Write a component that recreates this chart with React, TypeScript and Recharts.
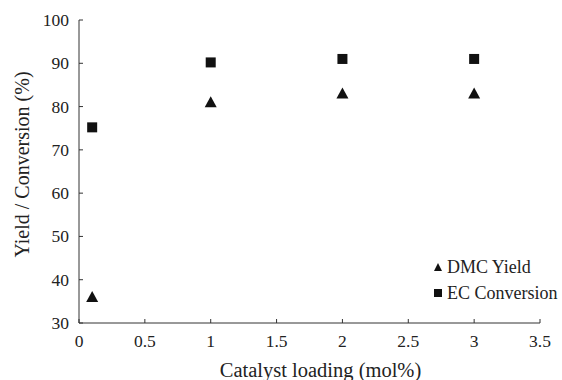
import { ScatterChart, Scatter, XAxis, YAxis } from 'recharts';

const loading = [0.1, 1, 2, 3];
const dmcYield = [36, 81, 83, 83];
const ecConversion = [75.2, 90.2, 91, 91];
const xTicks = [0, 0.5, 1, 1.5, 2, 2.5, 3, 3.5];
const yTicks = [30, 40, 50, 60, 70, 80, 90, 100];

const dmcData = loading.map((x, i) => ({ x, y: dmcYield[i] }));
const ecData = loading.map((x, i) => ({ x, y: ecConversion[i] }));

const FONT = 'Liberation Serif, Times New Roman, serif';
const INK = '#111';

const Triangle = (props: any) => {
  const { cx, cy } = props;
  return <polygon points={`${cx},${cy - 6} ${cx - 6},${cy + 5} ${cx + 6},${cy + 5}`} fill={INK} />;
};

const Square = (props: any) => {
  const { cx, cy } = props;
  return <rect x={cx - 5} y={cy - 5} width={10} height={10} fill={INK} />;
};

// ticks point inward, so draw the little line ourselves
const YTick = (props: any) => {
  const { x, y, payload } = props;
  return (
    <g>
      <line x1={x + 10} x2={x + 14} y1={y} y2={y} stroke="#333" />
      <text x={x} y={y} dy={6} textAnchor="end" style={{ fontFamily: FONT, fontSize: 17.5 }} fill="#222">
        {payload.value}
      </text>
    </g>
  );
};

const XTick = (props: any) => {
  const { x, y, payload } = props;
  return (
    <g>
      <line x1={x} x2={x} y1={y - 12} y2={y - 16} stroke="#333" />
      <text x={x} y={y} dy={12} textAnchor="middle" style={{ fontFamily: FONT, fontSize: 17.5 }} fill="#222">
        {payload.value}
      </text>
    </g>
  );
};

const YLabel = (props: any) => {
  const { viewBox } = props;
  const x = viewBox.x + 10;
  const y = viewBox.y + viewBox.height / 2 - 7;
  return (
    <text x={x} y={y} transform={`rotate(-90, ${x}, ${y})`} textAnchor="middle" style={{ fontFamily: FONT, fontSize: 20 }} fill="#222">
      Yield / Conversion (%)
    </text>
  );
};

const XLabel = (props: any) => {
  const { viewBox } = props;
  return (
    <text x={viewBox.x + viewBox.width / 2 + 11} y={viewBox.y + viewBox.height + 9} textAnchor="middle" style={{ fontFamily: FONT, fontSize: 20.5 }} fill="#222">
      Catalyst loading (mol%)
    </text>
  );
};

const LegendBox = () => (
  <div style={{ position: 'absolute', left: 433, top: 254, fontFamily: FONT, fontSize: 18, color: '#222', lineHeight: '26px' }}>
    <div style={{ display: 'flex', alignItems: 'center' }}>
      <svg width={10} height={10} style={{ marginRight: 4 }}>
        <polygon points="5,1 1,9 9,9" fill={INK} />
      </svg>
      DMC Yield
    </div>
    <div style={{ display: 'flex', alignItems: 'center' }}>
      <svg width={10} height={10} style={{ marginRight: 4 }}>
        <rect x={1} y={1} width={8} height={8} fill={INK} />
      </svg>
      EC Conversion
    </div>
  </div>
);

export default function App() {
  return (
    <div style={{ position: 'absolute', left: 0, top: 0, width: 562, height: 380, background: '#fff' }}>
      <ScatterChart width={562} height={380} margin={{ top: 20, right: 22, bottom: 12, left: 19 }}>
        <XAxis
          type="number"
          dataKey="x"
          domain={[0, 3.5]}
          ticks={xTicks}
          interval={0}
          tickSize={0}
          tickMargin={12}
          tickLine={false}
          tick={<XTick />}
          axisLine={{ stroke: '#333' }}
          height={45}
          label={<XLabel />}
        />
        <YAxis
          type="number"
          dataKey="y"
          domain={[30, 100]}
          ticks={yTicks}
          interval={0}
          tickSize={0}
          tickMargin={10}
          tickLine={false}
          tick={<YTick />}
          axisLine={{ stroke: '#333' }}
          width={60}
          label={<YLabel />}
        />
        <Scatter name="DMC Yield" data={dmcData} shape={<Triangle />} isAnimationActive={false} />
        <Scatter name="EC Conversion" data={ecData} shape={<Square />} isAnimationActive={false} />
      </ScatterChart>
      <LegendBox />
    </div>
  );
}
